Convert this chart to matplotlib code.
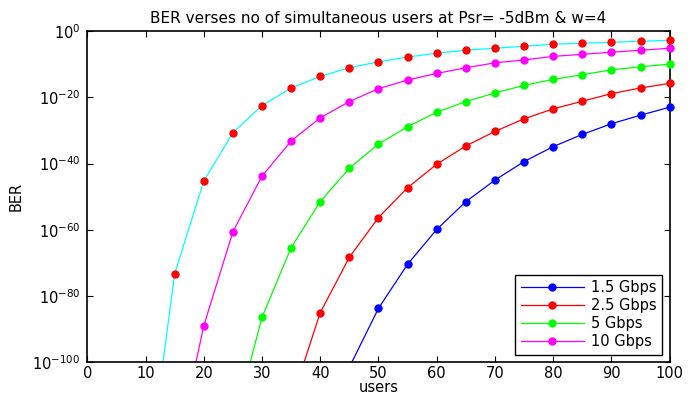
import matplotlib
matplotlib.use("Agg")
import matplotlib.pyplot as plt
from matplotlib.lines import Line2D
import numpy as np

plt.rcParams['font.family'] = ['DejaVu Sans']

users = [10, 15, 20, 25, 30, 35, 40, 45, 50, 55, 60, 65, 70, 75, 80, 85, 90, 95, 100]
# log10(BER)
exp_20g = [-140, -73.3, -45.3, -30.7, -22.5, -17.2, -13.7, -11.1, -9.3, -7.85, -6.7, -5.8, -5.2, -4.6, -4.0, -3.7, -3.4, -3.1, -2.8]
exp_10g = [-200, -130, -89.0, -60.6, -43.8, -33.2, -26.2, -21.3, -17.4, -14.8, -12.8, -11.1, -9.6, -8.75, -7.65, -7.05, -6.4, -5.8, -5.2]
exp_5g = [-260, -200, -160, -120, -86.4, -65.4, -51.5, -41.4, -34.1, -28.9, -24.5, -21.3, -18.7, -16.4, -14.6, -13.2, -11.7, -10.8, -10.0]
exp_2p5g = [-290, -250, -200, -160, -135, -112, -85.0, -68.3, -56.3, -47.3, -40.2, -34.7, -30.3, -26.5, -23.5, -21.2, -18.9, -17.2, -15.8]
exp_1p5g = [-290, -260, -230, -200, -170, -140, -120, -101.5, -83.7, -70.4, -59.9, -51.5, -45.0, -39.4, -34.9, -31.2, -28.0, -25.4, -23.0]

labels = ['1.5 Gbps', '2.5 Gbps', '5 Gbps', '10 Gbps']
xticks = list(range(0, 101, 10))
yexp_ticks = [0, -20, -40, -60, -80, -100]

def ber(e):
    return np.power(10.0, np.array(e, dtype=float))

fig = plt.figure(figsize=(6.96, 3.96), dpi=100)
ax = fig.add_axes([0.1254, 0.0851, 0.8368, 0.8366])

ax.set_xlim(0, 100)
ax.set_ylim(1e-100, 1e0)

ms = 5
lw = 0.9
series = [
    (exp_1p5g, '#0000ff', '#0000ff'),
    (exp_2p5g, '#ff0000', '#ff0000'),
    (exp_5g, '#00ff00', '#00ff00'),
    (exp_10g, '#ff00ff', '#ff00ff'),
    (exp_20g, '#00ffff', '#ff0000'),
]
for e, lc, mc in series:
    y = ber(e)
    ax.semilogy(users, y, '-', color=lc, lw=lw)
    ym = np.where(np.array(e) >= -100, y, np.nan)
    ax.semilogy(users, ym, 'o', color=mc, markersize=ms, clip_on=False, zorder=3)

ax.set_xticks(xticks)
ax.set_xticklabels([str(t) for t in xticks], fontsize=10.5)
ax.set_yticks([10.0 ** e for e in yexp_ticks])
ax.set_yticklabels([r'$\mathregular{10^{%d}}$' % e for e in yexp_ticks], fontsize=10.5)
ax.minorticks_off()
ax.tick_params(direction='in', top=True, right=True, length=4, width=0.8)
ax.tick_params(axis='x', pad=3)
ax.tick_params(axis='y', pad=5)
for s in ax.spines.values():
    s.set_linewidth(1.2)

ax.set_title('BER verses no of simultaneous users at Psr= -5dBm & w=4', fontsize=11, pad=6)
ax.set_xlabel('users', fontsize=10.5, labelpad=-1)
ax.set_ylabel('BER', fontsize=10.5, labelpad=6)

handles = [Line2D([], [], color=c, lw=lw, marker='o', markersize=ms) for c in ['#0000ff', '#ff0000', '#00ff00', '#ff00ff']]
leg = ax.legend(handles, labels, loc='lower right', fontsize=10.5, fancybox=False, edgecolor='black',
                framealpha=1, borderaxespad=0.5, handlelength=4.3, handletextpad=0.5, labelspacing=0.2)
leg.get_frame().set_linewidth(1.0)

fig.savefig('out.png', dpi=100)
